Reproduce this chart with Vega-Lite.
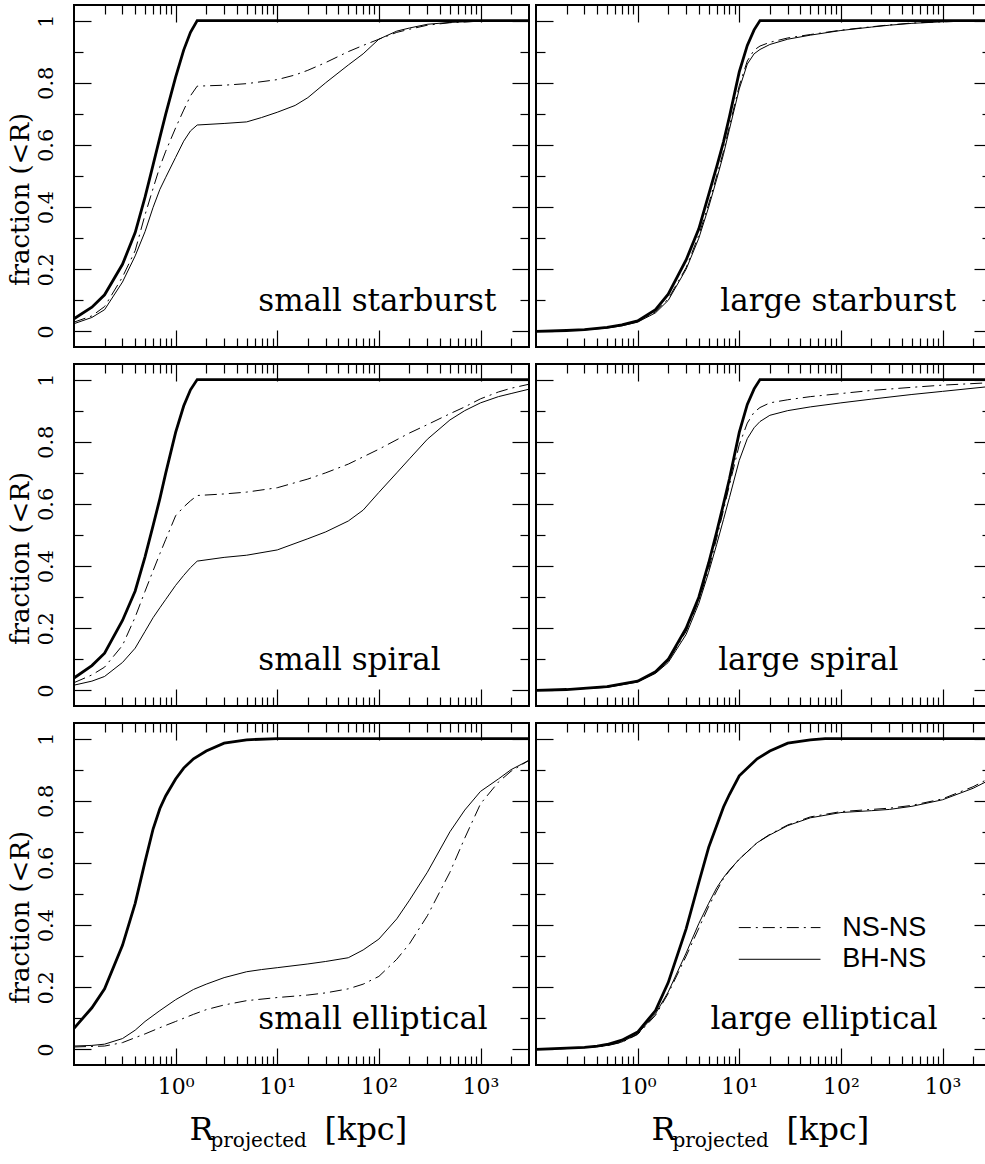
{
"$schema":"https://vega.github.io/schema/vega-lite/v6.json",
"padding":{"left":5,"top":3,"right":0,"bottom":0},
"config":{
 "view":{"stroke":"black","strokeWidth":2},
 "axis":{"grid":false,"domain":false,"minExtent":0,"maxExtent":0,"tickColor":"black","tickWidth":1.2,"labelColor":"black","titleColor":"black","labelFont":"DejaVu Serif","titleFont":"DejaVu Serif","labelFontSize":21,"titleFontSize":26,"titleFontWeight":"normal","labelOverlap":false,"labelFlush":false}
},
"datasets":{"curves":[
{"panel":"ss","series":"all","r":0.1,"f":0.041},{"panel":"ss","series":"all","r":0.15,"f":0.078},{"panel":"ss","series":"all","r":0.2,"f":0.118},{"panel":"ss","series":"all","r":0.3,"f":0.216},{"panel":"ss","series":"all","r":0.4,"f":0.318},{"panel":"ss","series":"all","r":0.5,"f":0.432},{"panel":"ss","series":"all","r":0.6,"f":0.536},{"panel":"ss","series":"all","r":0.7,"f":0.624},{"panel":"ss","series":"all","r":0.8,"f":0.7},{"panel":"ss","series":"all","r":1,"f":0.818},{"panel":"ss","series":"all","r":1.2,"f":0.905},{"panel":"ss","series":"all","r":1.4,"f":0.962},{"panel":"ss","series":"all","r":1.63,"f":1},{"panel":"ss","series":"all","r":3000,"f":1},
{"panel":"ss","series":"NS-NS","r":0.1,"f":0.03},{"panel":"ss","series":"NS-NS","r":0.15,"f":0.05},{"panel":"ss","series":"NS-NS","r":0.2,"f":0.08},{"panel":"ss","series":"NS-NS","r":0.3,"f":0.175},{"panel":"ss","series":"NS-NS","r":0.4,"f":0.26},{"panel":"ss","series":"NS-NS","r":0.5,"f":0.375},{"panel":"ss","series":"NS-NS","r":0.6,"f":0.46},{"panel":"ss","series":"NS-NS","r":0.7,"f":0.53},{"panel":"ss","series":"NS-NS","r":0.8,"f":0.58},{"panel":"ss","series":"NS-NS","r":1,"f":0.655},{"panel":"ss","series":"NS-NS","r":1.2,"f":0.712},{"panel":"ss","series":"NS-NS","r":1.4,"f":0.758},{"panel":"ss","series":"NS-NS","r":1.63,"f":0.789},{"panel":"ss","series":"NS-NS","r":3,"f":0.792},{"panel":"ss","series":"NS-NS","r":5,"f":0.797},{"panel":"ss","series":"NS-NS","r":10,"f":0.81},{"panel":"ss","series":"NS-NS","r":15,"f":0.825},{"panel":"ss","series":"NS-NS","r":20,"f":0.84},{"panel":"ss","series":"NS-NS","r":30,"f":0.865},{"panel":"ss","series":"NS-NS","r":50,"f":0.9},{"panel":"ss","series":"NS-NS","r":70,"f":0.92},{"panel":"ss","series":"NS-NS","r":100,"f":0.94},{"panel":"ss","series":"NS-NS","r":150,"f":0.962},{"panel":"ss","series":"NS-NS","r":200,"f":0.972},{"panel":"ss","series":"NS-NS","r":300,"f":0.985},{"panel":"ss","series":"NS-NS","r":500,"f":0.993},{"panel":"ss","series":"NS-NS","r":1000,"f":0.998},{"panel":"ss","series":"NS-NS","r":3000,"f":1},
{"panel":"ss","series":"BH-NS","r":0.1,"f":0.025},{"panel":"ss","series":"BH-NS","r":0.15,"f":0.045},{"panel":"ss","series":"BH-NS","r":0.2,"f":0.07},{"panel":"ss","series":"BH-NS","r":0.3,"f":0.159},{"panel":"ss","series":"BH-NS","r":0.4,"f":0.243},{"panel":"ss","series":"BH-NS","r":0.5,"f":0.321},{"panel":"ss","series":"BH-NS","r":0.6,"f":0.399},{"panel":"ss","series":"BH-NS","r":0.7,"f":0.457},{"panel":"ss","series":"BH-NS","r":0.8,"f":0.496},{"panel":"ss","series":"BH-NS","r":1,"f":0.56},{"panel":"ss","series":"BH-NS","r":1.2,"f":0.612},{"panel":"ss","series":"BH-NS","r":1.4,"f":0.645},{"panel":"ss","series":"BH-NS","r":1.63,"f":0.664},{"panel":"ss","series":"BH-NS","r":3,"f":0.669},{"panel":"ss","series":"BH-NS","r":5,"f":0.674},{"panel":"ss","series":"BH-NS","r":7,"f":0.688},{"panel":"ss","series":"BH-NS","r":10,"f":0.705},{"panel":"ss","series":"BH-NS","r":15,"f":0.727},{"panel":"ss","series":"BH-NS","r":20,"f":0.752},{"panel":"ss","series":"BH-NS","r":30,"f":0.8},{"panel":"ss","series":"BH-NS","r":50,"f":0.857},{"panel":"ss","series":"BH-NS","r":70,"f":0.893},{"panel":"ss","series":"BH-NS","r":100,"f":0.94},{"panel":"ss","series":"BH-NS","r":150,"f":0.966},{"panel":"ss","series":"BH-NS","r":200,"f":0.976},{"panel":"ss","series":"BH-NS","r":300,"f":0.988},{"panel":"ss","series":"BH-NS","r":500,"f":0.994},{"panel":"ss","series":"BH-NS","r":1000,"f":0.998},{"panel":"ss","series":"BH-NS","r":3000,"f":1},

{"panel":"ls","series":"all","r":0.1,"f":0},{"panel":"ls","series":"all","r":0.2,"f":0.003},{"panel":"ls","series":"all","r":0.3,"f":0.006},{"panel":"ls","series":"all","r":0.5,"f":0.013},{"panel":"ls","series":"all","r":0.7,"f":0.021},{"panel":"ls","series":"all","r":1,"f":0.034},{"panel":"ls","series":"all","r":1.5,"f":0.07},{"panel":"ls","series":"all","r":2,"f":0.12},{"panel":"ls","series":"all","r":3,"f":0.23},{"panel":"ls","series":"all","r":4,"f":0.33},{"panel":"ls","series":"all","r":5,"f":0.44},{"panel":"ls","series":"all","r":6,"f":0.53},{"panel":"ls","series":"all","r":7,"f":0.61},{"panel":"ls","series":"all","r":8,"f":0.69},{"panel":"ls","series":"all","r":10,"f":0.835},{"panel":"ls","series":"all","r":12,"f":0.92},{"panel":"ls","series":"all","r":14,"f":0.97},{"panel":"ls","series":"all","r":16,"f":1},{"panel":"ls","series":"all","r":3000,"f":1},
{"panel":"ls","series":"NS-NS","r":0.1,"f":0},{"panel":"ls","series":"NS-NS","r":0.2,"f":0.003},{"panel":"ls","series":"NS-NS","r":0.3,"f":0.006},{"panel":"ls","series":"NS-NS","r":0.5,"f":0.012},{"panel":"ls","series":"NS-NS","r":0.7,"f":0.02},{"panel":"ls","series":"NS-NS","r":1,"f":0.032},{"panel":"ls","series":"NS-NS","r":1.5,"f":0.063},{"panel":"ls","series":"NS-NS","r":2,"f":0.105},{"panel":"ls","series":"NS-NS","r":3,"f":0.205},{"panel":"ls","series":"NS-NS","r":4,"f":0.31},{"panel":"ls","series":"NS-NS","r":5,"f":0.41},{"panel":"ls","series":"NS-NS","r":6,"f":0.5},{"panel":"ls","series":"NS-NS","r":7,"f":0.58},{"panel":"ls","series":"NS-NS","r":8,"f":0.66},{"panel":"ls","series":"NS-NS","r":10,"f":0.79},{"panel":"ls","series":"NS-NS","r":12,"f":0.87},{"panel":"ls","series":"NS-NS","r":14,"f":0.905},{"panel":"ls","series":"NS-NS","r":16,"f":0.918},{"panel":"ls","series":"NS-NS","r":20,"f":0.93},{"panel":"ls","series":"NS-NS","r":30,"f":0.944},{"panel":"ls","series":"NS-NS","r":50,"f":0.955},{"panel":"ls","series":"NS-NS","r":100,"f":0.969},{"panel":"ls","series":"NS-NS","r":200,"f":0.98},{"panel":"ls","series":"NS-NS","r":300,"f":0.986},{"panel":"ls","series":"NS-NS","r":500,"f":0.992},{"panel":"ls","series":"NS-NS","r":1000,"f":0.996},{"panel":"ls","series":"NS-NS","r":3000,"f":1},
{"panel":"ls","series":"BH-NS","r":0.1,"f":0},{"panel":"ls","series":"BH-NS","r":0.2,"f":0.003},{"panel":"ls","series":"BH-NS","r":0.3,"f":0.005},{"panel":"ls","series":"BH-NS","r":0.5,"f":0.011},{"panel":"ls","series":"BH-NS","r":0.7,"f":0.018},{"panel":"ls","series":"BH-NS","r":1,"f":0.03},{"panel":"ls","series":"BH-NS","r":1.5,"f":0.06},{"panel":"ls","series":"BH-NS","r":2,"f":0.1},{"panel":"ls","series":"BH-NS","r":3,"f":0.2},{"panel":"ls","series":"BH-NS","r":4,"f":0.3},{"panel":"ls","series":"BH-NS","r":5,"f":0.4},{"panel":"ls","series":"BH-NS","r":6,"f":0.49},{"panel":"ls","series":"BH-NS","r":7,"f":0.57},{"panel":"ls","series":"BH-NS","r":8,"f":0.65},{"panel":"ls","series":"BH-NS","r":10,"f":0.78},{"panel":"ls","series":"BH-NS","r":12,"f":0.86},{"panel":"ls","series":"BH-NS","r":14,"f":0.893},{"panel":"ls","series":"BH-NS","r":16,"f":0.907},{"panel":"ls","series":"BH-NS","r":20,"f":0.923},{"panel":"ls","series":"BH-NS","r":30,"f":0.94},{"panel":"ls","series":"BH-NS","r":50,"f":0.953},{"panel":"ls","series":"BH-NS","r":100,"f":0.968},{"panel":"ls","series":"BH-NS","r":200,"f":0.979},{"panel":"ls","series":"BH-NS","r":300,"f":0.985},{"panel":"ls","series":"BH-NS","r":500,"f":0.991},{"panel":"ls","series":"BH-NS","r":1000,"f":0.996},{"panel":"ls","series":"BH-NS","r":3000,"f":1},

{"panel":"sp","series":"all","r":0.1,"f":0.04},{"panel":"sp","series":"all","r":0.15,"f":0.08},{"panel":"sp","series":"all","r":0.2,"f":0.12},{"panel":"sp","series":"all","r":0.3,"f":0.225},{"panel":"sp","series":"all","r":0.4,"f":0.32},{"panel":"sp","series":"all","r":0.5,"f":0.43},{"panel":"sp","series":"all","r":0.6,"f":0.53},{"panel":"sp","series":"all","r":0.7,"f":0.617},{"panel":"sp","series":"all","r":0.8,"f":0.7},{"panel":"sp","series":"all","r":1,"f":0.83},{"panel":"sp","series":"all","r":1.2,"f":0.915},{"panel":"sp","series":"all","r":1.4,"f":0.967},{"panel":"sp","series":"all","r":1.63,"f":1},{"panel":"sp","series":"all","r":3000,"f":1},
{"panel":"sp","series":"NS-NS","r":0.1,"f":0.025},{"panel":"sp","series":"NS-NS","r":0.15,"f":0.05},{"panel":"sp","series":"NS-NS","r":0.2,"f":0.075},{"panel":"sp","series":"NS-NS","r":0.3,"f":0.145},{"panel":"sp","series":"NS-NS","r":0.4,"f":0.236},{"panel":"sp","series":"NS-NS","r":0.5,"f":0.319},{"panel":"sp","series":"NS-NS","r":0.6,"f":0.385},{"panel":"sp","series":"NS-NS","r":0.7,"f":0.44},{"panel":"sp","series":"NS-NS","r":0.8,"f":0.486},{"panel":"sp","series":"NS-NS","r":1,"f":0.562},{"panel":"sp","series":"NS-NS","r":1.2,"f":0.59},{"panel":"sp","series":"NS-NS","r":1.4,"f":0.61},{"panel":"sp","series":"NS-NS","r":1.63,"f":0.627},{"panel":"sp","series":"NS-NS","r":3,"f":0.632},{"panel":"sp","series":"NS-NS","r":5,"f":0.638},{"panel":"sp","series":"NS-NS","r":10,"f":0.652},{"panel":"sp","series":"NS-NS","r":20,"f":0.68},{"panel":"sp","series":"NS-NS","r":30,"f":0.7},{"panel":"sp","series":"NS-NS","r":50,"f":0.728},{"panel":"sp","series":"NS-NS","r":100,"f":0.776},{"panel":"sp","series":"NS-NS","r":200,"f":0.828},{"panel":"sp","series":"NS-NS","r":300,"f":0.855},{"panel":"sp","series":"NS-NS","r":500,"f":0.89},{"panel":"sp","series":"NS-NS","r":700,"f":0.912},{"panel":"sp","series":"NS-NS","r":1000,"f":0.938},{"panel":"sp","series":"NS-NS","r":1500,"f":0.96},{"panel":"sp","series":"NS-NS","r":2000,"f":0.972},{"panel":"sp","series":"NS-NS","r":3000,"f":0.985},
{"panel":"sp","series":"BH-NS","r":0.1,"f":0.017},{"panel":"sp","series":"BH-NS","r":0.15,"f":0.03},{"panel":"sp","series":"BH-NS","r":0.2,"f":0.045},{"panel":"sp","series":"BH-NS","r":0.3,"f":0.09},{"panel":"sp","series":"BH-NS","r":0.4,"f":0.136},{"panel":"sp","series":"BH-NS","r":0.5,"f":0.19},{"panel":"sp","series":"BH-NS","r":0.6,"f":0.234},{"panel":"sp","series":"BH-NS","r":0.7,"f":0.266},{"panel":"sp","series":"BH-NS","r":0.8,"f":0.293},{"panel":"sp","series":"BH-NS","r":1,"f":0.338},{"panel":"sp","series":"BH-NS","r":1.2,"f":0.37},{"panel":"sp","series":"BH-NS","r":1.4,"f":0.395},{"panel":"sp","series":"BH-NS","r":1.63,"f":0.416},{"panel":"sp","series":"BH-NS","r":3,"f":0.428},{"panel":"sp","series":"BH-NS","r":5,"f":0.435},{"panel":"sp","series":"BH-NS","r":10,"f":0.452},{"panel":"sp","series":"BH-NS","r":20,"f":0.488},{"panel":"sp","series":"BH-NS","r":30,"f":0.51},{"panel":"sp","series":"BH-NS","r":50,"f":0.545},{"panel":"sp","series":"BH-NS","r":70,"f":0.58},{"panel":"sp","series":"BH-NS","r":100,"f":0.637},{"panel":"sp","series":"BH-NS","r":150,"f":0.7},{"panel":"sp","series":"BH-NS","r":200,"f":0.745},{"panel":"sp","series":"BH-NS","r":300,"f":0.808},{"panel":"sp","series":"BH-NS","r":500,"f":0.87},{"panel":"sp","series":"BH-NS","r":700,"f":0.9},{"panel":"sp","series":"BH-NS","r":1000,"f":0.925},{"panel":"sp","series":"BH-NS","r":1500,"f":0.945},{"panel":"sp","series":"BH-NS","r":2000,"f":0.955},{"panel":"sp","series":"BH-NS","r":3000,"f":0.969},

{"panel":"lp","series":"all","r":0.1,"f":0},{"panel":"lp","series":"all","r":0.2,"f":0.003},{"panel":"lp","series":"all","r":0.5,"f":0.012},{"panel":"lp","series":"all","r":1,"f":0.03},{"panel":"lp","series":"all","r":1.5,"f":0.06},{"panel":"lp","series":"all","r":2,"f":0.1},{"panel":"lp","series":"all","r":3,"f":0.2},{"panel":"lp","series":"all","r":4,"f":0.3},{"panel":"lp","series":"all","r":5,"f":0.41},{"panel":"lp","series":"all","r":6,"f":0.51},{"panel":"lp","series":"all","r":7,"f":0.6},{"panel":"lp","series":"all","r":8,"f":0.68},{"panel":"lp","series":"all","r":10,"f":0.83},{"panel":"lp","series":"all","r":12,"f":0.92},{"panel":"lp","series":"all","r":14,"f":0.97},{"panel":"lp","series":"all","r":16,"f":1},{"panel":"lp","series":"all","r":3000,"f":1},
{"panel":"lp","series":"NS-NS","r":0.1,"f":0},{"panel":"lp","series":"NS-NS","r":0.2,"f":0.003},{"panel":"lp","series":"NS-NS","r":0.5,"f":0.011},{"panel":"lp","series":"NS-NS","r":1,"f":0.029},{"panel":"lp","series":"NS-NS","r":1.5,"f":0.058},{"panel":"lp","series":"NS-NS","r":2,"f":0.095},{"panel":"lp","series":"NS-NS","r":3,"f":0.19},{"panel":"lp","series":"NS-NS","r":4,"f":0.29},{"panel":"lp","series":"NS-NS","r":5,"f":0.39},{"panel":"lp","series":"NS-NS","r":6,"f":0.49},{"panel":"lp","series":"NS-NS","r":7,"f":0.58},{"panel":"lp","series":"NS-NS","r":8,"f":0.66},{"panel":"lp","series":"NS-NS","r":10,"f":0.79},{"panel":"lp","series":"NS-NS","r":12,"f":0.86},{"panel":"lp","series":"NS-NS","r":14,"f":0.895},{"panel":"lp","series":"NS-NS","r":16,"f":0.91},{"panel":"lp","series":"NS-NS","r":20,"f":0.925},{"panel":"lp","series":"NS-NS","r":30,"f":0.935},{"panel":"lp","series":"NS-NS","r":50,"f":0.945},{"panel":"lp","series":"NS-NS","r":100,"f":0.955},{"panel":"lp","series":"NS-NS","r":200,"f":0.965},{"panel":"lp","series":"NS-NS","r":500,"f":0.975},{"panel":"lp","series":"NS-NS","r":1000,"f":0.982},{"panel":"lp","series":"NS-NS","r":3000,"f":0.99},
{"panel":"lp","series":"BH-NS","r":0.1,"f":0},{"panel":"lp","series":"BH-NS","r":0.2,"f":0.003},{"panel":"lp","series":"BH-NS","r":0.5,"f":0.01},{"panel":"lp","series":"BH-NS","r":1,"f":0.027},{"panel":"lp","series":"BH-NS","r":1.5,"f":0.055},{"panel":"lp","series":"BH-NS","r":2,"f":0.09},{"panel":"lp","series":"BH-NS","r":3,"f":0.18},{"panel":"lp","series":"BH-NS","r":4,"f":0.28},{"panel":"lp","series":"BH-NS","r":5,"f":0.38},{"panel":"lp","series":"BH-NS","r":6,"f":0.47},{"panel":"lp","series":"BH-NS","r":7,"f":0.55},{"panel":"lp","series":"BH-NS","r":8,"f":0.62},{"panel":"lp","series":"BH-NS","r":10,"f":0.74},{"panel":"lp","series":"BH-NS","r":12,"f":0.81},{"panel":"lp","series":"BH-NS","r":14,"f":0.845},{"panel":"lp","series":"BH-NS","r":16,"f":0.865},{"panel":"lp","series":"BH-NS","r":20,"f":0.885},{"panel":"lp","series":"BH-NS","r":30,"f":0.9},{"panel":"lp","series":"BH-NS","r":50,"f":0.912},{"panel":"lp","series":"BH-NS","r":100,"f":0.925},{"panel":"lp","series":"BH-NS","r":200,"f":0.937},{"panel":"lp","series":"BH-NS","r":500,"f":0.952},{"panel":"lp","series":"BH-NS","r":1000,"f":0.962},{"panel":"lp","series":"BH-NS","r":3000,"f":0.978},

{"panel":"se","series":"all","r":0.1,"f":0.068},{"panel":"se","series":"all","r":0.15,"f":0.134},{"panel":"se","series":"all","r":0.2,"f":0.195},{"panel":"se","series":"all","r":0.3,"f":0.335},{"panel":"se","series":"all","r":0.4,"f":0.47},{"panel":"se","series":"all","r":0.5,"f":0.604},{"panel":"se","series":"all","r":0.6,"f":0.709},{"panel":"se","series":"all","r":0.7,"f":0.775},{"panel":"se","series":"all","r":0.8,"f":0.816},{"panel":"se","series":"all","r":1,"f":0.87},{"panel":"se","series":"all","r":1.2,"f":0.905},{"panel":"se","series":"all","r":1.5,"f":0.935},{"panel":"se","series":"all","r":2,"f":0.96},{"panel":"se","series":"all","r":3,"f":0.985},{"panel":"se","series":"all","r":5,"f":0.996},{"panel":"se","series":"all","r":10,"f":1},{"panel":"se","series":"all","r":3000,"f":1},
{"panel":"se","series":"NS-NS","r":0.1,"f":0.008},{"panel":"se","series":"NS-NS","r":0.2,"f":0.011},{"panel":"se","series":"NS-NS","r":0.3,"f":0.022},{"panel":"se","series":"NS-NS","r":0.4,"f":0.038},{"panel":"se","series":"NS-NS","r":0.5,"f":0.05},{"panel":"se","series":"NS-NS","r":0.7,"f":0.07},{"panel":"se","series":"NS-NS","r":1,"f":0.09},{"panel":"se","series":"NS-NS","r":1.5,"f":0.113},{"panel":"se","series":"NS-NS","r":2,"f":0.128},{"panel":"se","series":"NS-NS","r":3,"f":0.143},{"panel":"se","series":"NS-NS","r":5,"f":0.157},{"panel":"se","series":"NS-NS","r":10,"f":0.167},{"panel":"se","series":"NS-NS","r":20,"f":0.175},{"panel":"se","series":"NS-NS","r":30,"f":0.182},{"panel":"se","series":"NS-NS","r":50,"f":0.195},{"panel":"se","series":"NS-NS","r":70,"f":0.21},{"panel":"se","series":"NS-NS","r":100,"f":0.235},{"panel":"se","series":"NS-NS","r":150,"f":0.29},{"panel":"se","series":"NS-NS","r":200,"f":0.34},{"panel":"se","series":"NS-NS","r":300,"f":0.43},{"panel":"se","series":"NS-NS","r":500,"f":0.57},{"panel":"se","series":"NS-NS","r":700,"f":0.68},{"panel":"se","series":"NS-NS","r":1000,"f":0.79},{"panel":"se","series":"NS-NS","r":1500,"f":0.86},{"panel":"se","series":"NS-NS","r":2000,"f":0.895},{"panel":"se","series":"NS-NS","r":3000,"f":0.93},
{"panel":"se","series":"BH-NS","r":0.1,"f":0.011},{"panel":"se","series":"BH-NS","r":0.15,"f":0.013},{"panel":"se","series":"BH-NS","r":0.2,"f":0.017},{"panel":"se","series":"BH-NS","r":0.3,"f":0.035},{"panel":"se","series":"BH-NS","r":0.4,"f":0.062},{"panel":"se","series":"BH-NS","r":0.5,"f":0.09},{"panel":"se","series":"BH-NS","r":0.7,"f":0.125},{"panel":"se","series":"BH-NS","r":1,"f":0.16},{"panel":"se","series":"BH-NS","r":1.5,"f":0.193},{"panel":"se","series":"BH-NS","r":2,"f":0.21},{"panel":"se","series":"BH-NS","r":3,"f":0.231},{"panel":"se","series":"BH-NS","r":5,"f":0.25},{"panel":"se","series":"BH-NS","r":7,"f":0.257},{"panel":"se","series":"BH-NS","r":10,"f":0.263},{"panel":"se","series":"BH-NS","r":20,"f":0.275},{"panel":"se","series":"BH-NS","r":30,"f":0.283},{"panel":"se","series":"BH-NS","r":50,"f":0.295},{"panel":"se","series":"BH-NS","r":70,"f":0.32},{"panel":"se","series":"BH-NS","r":100,"f":0.355},{"panel":"se","series":"BH-NS","r":150,"f":0.42},{"panel":"se","series":"BH-NS","r":200,"f":0.48},{"panel":"se","series":"BH-NS","r":300,"f":0.57},{"panel":"se","series":"BH-NS","r":500,"f":0.7},{"panel":"se","series":"BH-NS","r":700,"f":0.77},{"panel":"se","series":"BH-NS","r":1000,"f":0.83},{"panel":"se","series":"BH-NS","r":1500,"f":0.87},{"panel":"se","series":"BH-NS","r":2000,"f":0.9},{"panel":"se","series":"BH-NS","r":3000,"f":0.93},

{"panel":"le","series":"all","r":0.1,"f":0},{"panel":"le","series":"all","r":0.2,"f":0.004},{"panel":"le","series":"all","r":0.3,"f":0.007},{"panel":"le","series":"all","r":0.4,"f":0.011},{"panel":"le","series":"all","r":0.5,"f":0.016},{"panel":"le","series":"all","r":0.7,"f":0.03},{"panel":"le","series":"all","r":1,"f":0.056},{"panel":"le","series":"all","r":1.5,"f":0.125},{"panel":"le","series":"all","r":2,"f":0.215},{"panel":"le","series":"all","r":3,"f":0.388},{"panel":"le","series":"all","r":4,"f":0.537},{"panel":"le","series":"all","r":5,"f":0.65},{"panel":"le","series":"all","r":6,"f":0.72},{"panel":"le","series":"all","r":7,"f":0.78},{"panel":"le","series":"all","r":8,"f":0.82},{"panel":"le","series":"all","r":10,"f":0.88},{"panel":"le","series":"all","r":15,"f":0.935},{"panel":"le","series":"all","r":20,"f":0.96},{"panel":"le","series":"all","r":30,"f":0.985},{"panel":"le","series":"all","r":50,"f":0.996},{"panel":"le","series":"all","r":70,"f":1},{"panel":"le","series":"all","r":3000,"f":1},
{"panel":"le","series":"NS-NS","r":0.1,"f":0},{"panel":"le","series":"NS-NS","r":0.2,"f":0.003},{"panel":"le","series":"NS-NS","r":0.3,"f":0.006},{"panel":"le","series":"NS-NS","r":0.4,"f":0.009},{"panel":"le","series":"NS-NS","r":0.5,"f":0.012},{"panel":"le","series":"NS-NS","r":0.7,"f":0.023},{"panel":"le","series":"NS-NS","r":1,"f":0.048},{"panel":"le","series":"NS-NS","r":1.5,"f":0.11},{"panel":"le","series":"NS-NS","r":2,"f":0.18},{"panel":"le","series":"NS-NS","r":3,"f":0.3},{"panel":"le","series":"NS-NS","r":4,"f":0.39},{"panel":"le","series":"NS-NS","r":5,"f":0.46},{"panel":"le","series":"NS-NS","r":6,"f":0.51},{"panel":"le","series":"NS-NS","r":7,"f":0.55},{"panel":"le","series":"NS-NS","r":8,"f":0.575},{"panel":"le","series":"NS-NS","r":10,"f":0.612},{"panel":"le","series":"NS-NS","r":15,"f":0.665},{"panel":"le","series":"NS-NS","r":20,"f":0.692},{"panel":"le","series":"NS-NS","r":30,"f":0.722},{"panel":"le","series":"NS-NS","r":50,"f":0.748},{"panel":"le","series":"NS-NS","r":100,"f":0.765},{"panel":"le","series":"NS-NS","r":200,"f":0.772},{"panel":"le","series":"NS-NS","r":300,"f":0.776},{"panel":"le","series":"NS-NS","r":500,"f":0.785},{"panel":"le","series":"NS-NS","r":1000,"f":0.806},{"panel":"le","series":"NS-NS","r":2000,"f":0.845},{"panel":"le","series":"NS-NS","r":3000,"f":0.875},
{"panel":"le","series":"BH-NS","r":0.1,"f":0},{"panel":"le","series":"BH-NS","r":0.2,"f":0.003},{"panel":"le","series":"BH-NS","r":0.3,"f":0.006},{"panel":"le","series":"BH-NS","r":0.4,"f":0.009},{"panel":"le","series":"BH-NS","r":0.5,"f":0.013},{"panel":"le","series":"BH-NS","r":0.7,"f":0.024},{"panel":"le","series":"BH-NS","r":1,"f":0.05},{"panel":"le","series":"BH-NS","r":1.5,"f":0.115},{"panel":"le","series":"BH-NS","r":2,"f":0.185},{"panel":"le","series":"BH-NS","r":3,"f":0.31},{"panel":"le","series":"BH-NS","r":4,"f":0.405},{"panel":"le","series":"BH-NS","r":5,"f":0.47},{"panel":"le","series":"BH-NS","r":6,"f":0.52},{"panel":"le","series":"BH-NS","r":7,"f":0.553},{"panel":"le","series":"BH-NS","r":8,"f":0.577},{"panel":"le","series":"BH-NS","r":10,"f":0.612},{"panel":"le","series":"BH-NS","r":15,"f":0.665},{"panel":"le","series":"BH-NS","r":20,"f":0.69},{"panel":"le","series":"BH-NS","r":30,"f":0.72},{"panel":"le","series":"BH-NS","r":50,"f":0.745},{"panel":"le","series":"BH-NS","r":100,"f":0.762},{"panel":"le","series":"BH-NS","r":200,"f":0.768},{"panel":"le","series":"BH-NS","r":300,"f":0.772},{"panel":"le","series":"BH-NS","r":500,"f":0.782},{"panel":"le","series":"BH-NS","r":1000,"f":0.803},{"panel":"le","series":"BH-NS","r":2000,"f":0.84},{"panel":"le","series":"BH-NS","r":3000,"f":0.869}
]},
"spacing":13,
"vconcat":[
{"spacing":-21,"hconcat":[
 {"width":455,"height":342,"data":{"name":"curves"},"transform":[{"filter":"datum.panel === 'ss'"}],
  "resolve":{"axis":{"x":"independent","y":"independent"}},
  "layer":[
   {"transform":[{"filter":"datum.series === 'all'"}],"mark":{"type":"line","stroke":"black","strokeWidth":2.8},
    "encoding":{"x":{"field":"r","type":"quantitative","scale":{"type":"log","domain":[0.1,3000],"nice":false},"axis":{"orient":"bottom","offset":-17,"values":[1,10,100,1000],"tickSize":17,"labels":false,"title":null}},
     "y":{"field":"f","type":"quantitative","scale":{"domain":[-0.05,1.05],"nice":false,"zero":false},"axis":{"orient":"left","offset":-17,"maxExtent":200,"values":[0,0.2,0.4,0.6,0.8,1],"format":"~g","tickSize":17,"labelAngle":-90,"labelAlign":"center","labelBaseline":"bottom","labelPadding":18,"title":"fraction (<R)","titlePadding":2,"titleY":194}}}},
   {"transform":[{"filter":"datum.series === 'NS-NS'"}],"mark":{"type":"line","stroke":"black","strokeWidth":1,"strokeDash":[12,5,2,5]},
    "encoding":{"x":{"field":"r","type":"quantitative","scale":{"type":"log","domain":[0.1,3000],"nice":false},"axis":{"orient":"bottom","offset":-9,"values":[0.2,0.3,0.4,0.5,0.6,0.7,0.8,0.9,2,3,4,5,6,7,8,9,20,30,40,50,60,70,80,90,200,300,400,500,600,700,800,900,2000],"tickSize":9,"labels":false,"title":null}},
     "y":{"field":"f","type":"quantitative","scale":{"domain":[-0.05,1.05],"nice":false,"zero":false},"axis":{"orient":"left","offset":-9,"values":[0.1,0.3,0.5,0.7,0.9],"tickSize":9,"labels":false,"title":null}}}},
   {"transform":[{"filter":"datum.series === 'BH-NS'"}],"mark":{"type":"line","stroke":"black","strokeWidth":1},
    "encoding":{"x":{"field":"r","type":"quantitative","scale":{"type":"log","domain":[0.1,3000],"nice":false},"axis":{"orient":"top","offset":-17,"values":[1,10,100,1000],"tickSize":17,"labels":false,"title":null}},
     "y":{"field":"f","type":"quantitative","scale":{"domain":[-0.05,1.05],"nice":false,"zero":false},"axis":{"orient":"right","offset":-17,"values":[0,0.2,0.4,0.6,0.8,1],"tickSize":17,"labels":false,"title":null}}}},
   {"data":{"values":[{"label":"small starburst"}]},"mark":{"type":"text","font":"DejaVu Serif","fontSize":31,"align":"left","baseline":"alphabetic","color":"black"},
    "encoding":{"text":{"field":"label"},"x":{"datum":6.5,"type":"quantitative","scale":{"type":"log","domain":[0.1,3000],"nice":false},"axis":{"orient":"top","offset":-9,"values":[0.2,0.3,0.4,0.5,0.6,0.7,0.8,0.9,2,3,4,5,6,7,8,9,20,30,40,50,60,70,80,90,200,300,400,500,600,700,800,900,2000],"tickSize":9,"labels":false,"title":null}},
     "y":{"datum":0.067,"type":"quantitative","scale":{"domain":[-0.05,1.05],"nice":false,"zero":false},"axis":{"orient":"right","offset":-9,"values":[0.1,0.3,0.5,0.7,0.9],"tickSize":9,"labels":false,"title":null}}}}
  ]},
 {"width":455,"height":342,"data":{"name":"curves"},"transform":[{"filter":"datum.panel === 'ls'"}],
  "resolve":{"axis":{"x":"independent","y":"independent"}},
  "layer":[
   {"transform":[{"filter":"datum.series === 'all'"}],"mark":{"type":"line","stroke":"black","strokeWidth":2.8},
    "encoding":{"x":{"field":"r","type":"quantitative","scale":{"type":"log","domain":[0.1,3000],"nice":false},"axis":{"orient":"bottom","offset":-17,"values":[1,10,100,1000],"tickSize":17,"labels":false,"title":null}},
     "y":{"field":"f","type":"quantitative","scale":{"domain":[-0.05,1.05],"nice":false,"zero":false},"axis":{"orient":"left","offset":-17,"values":[0,0.2,0.4,0.6,0.8,1],"tickSize":17,"labels":false,"title":null}}}},
   {"transform":[{"filter":"datum.series === 'NS-NS'"}],"mark":{"type":"line","stroke":"black","strokeWidth":1,"strokeDash":[12,5,2,5]},
    "encoding":{"x":{"field":"r","type":"quantitative","scale":{"type":"log","domain":[0.1,3000],"nice":false},"axis":{"orient":"bottom","offset":-9,"values":[0.2,0.3,0.4,0.5,0.6,0.7,0.8,0.9,2,3,4,5,6,7,8,9,20,30,40,50,60,70,80,90,200,300,400,500,600,700,800,900,2000],"tickSize":9,"labels":false,"title":null}},
     "y":{"field":"f","type":"quantitative","scale":{"domain":[-0.05,1.05],"nice":false,"zero":false},"axis":{"orient":"left","offset":-9,"values":[0.1,0.3,0.5,0.7,0.9],"tickSize":9,"labels":false,"title":null}}}},
   {"transform":[{"filter":"datum.series === 'BH-NS'"}],"mark":{"type":"line","stroke":"black","strokeWidth":1},
    "encoding":{"x":{"field":"r","type":"quantitative","scale":{"type":"log","domain":[0.1,3000],"nice":false},"axis":{"orient":"top","offset":-17,"values":[1,10,100,1000],"tickSize":17,"labels":false,"title":null}},
     "y":{"field":"f","type":"quantitative","scale":{"domain":[-0.05,1.05],"nice":false,"zero":false},"axis":{"orient":"right","offset":-17,"values":[0,0.2,0.4,0.6,0.8,1],"tickSize":17,"labels":false,"title":null}}}},
   {"data":{"values":[{"label":"large starburst"}]},"mark":{"type":"text","font":"DejaVu Serif","fontSize":31,"align":"left","baseline":"alphabetic","color":"black"},
    "encoding":{"text":{"field":"label"},"x":{"datum":6.5,"type":"quantitative","scale":{"type":"log","domain":[0.1,3000],"nice":false},"axis":{"orient":"top","offset":-9,"values":[0.2,0.3,0.4,0.5,0.6,0.7,0.8,0.9,2,3,4,5,6,7,8,9,20,30,40,50,60,70,80,90,200,300,400,500,600,700,800,900,2000],"tickSize":9,"labels":false,"title":null}},
     "y":{"datum":0.067,"type":"quantitative","scale":{"domain":[-0.05,1.05],"nice":false,"zero":false},"axis":{"orient":"right","offset":-9,"values":[0.1,0.3,0.5,0.7,0.9],"tickSize":9,"labels":false,"title":null}}}}
  ]}
]},
{"spacing":-21,"hconcat":[
 {"width":455,"height":342,"data":{"name":"curves"},"transform":[{"filter":"datum.panel === 'sp'"}],
  "resolve":{"axis":{"x":"independent","y":"independent"}},
  "layer":[
   {"transform":[{"filter":"datum.series === 'all'"}],"mark":{"type":"line","stroke":"black","strokeWidth":2.8},
    "encoding":{"x":{"field":"r","type":"quantitative","scale":{"type":"log","domain":[0.1,3000],"nice":false},"axis":{"orient":"bottom","offset":-17,"values":[1,10,100,1000],"tickSize":17,"labels":false,"title":null}},
     "y":{"field":"f","type":"quantitative","scale":{"domain":[-0.05,1.05],"nice":false,"zero":false},"axis":{"orient":"left","offset":-17,"maxExtent":200,"values":[0,0.2,0.4,0.6,0.8,1],"format":"~g","tickSize":17,"labelAngle":-90,"labelAlign":"center","labelBaseline":"bottom","labelPadding":18,"title":"fraction (<R)","titlePadding":2,"titleY":194}}}},
   {"transform":[{"filter":"datum.series === 'NS-NS'"}],"mark":{"type":"line","stroke":"black","strokeWidth":1,"strokeDash":[12,5,2,5]},
    "encoding":{"x":{"field":"r","type":"quantitative","scale":{"type":"log","domain":[0.1,3000],"nice":false},"axis":{"orient":"bottom","offset":-9,"values":[0.2,0.3,0.4,0.5,0.6,0.7,0.8,0.9,2,3,4,5,6,7,8,9,20,30,40,50,60,70,80,90,200,300,400,500,600,700,800,900,2000],"tickSize":9,"labels":false,"title":null}},
     "y":{"field":"f","type":"quantitative","scale":{"domain":[-0.05,1.05],"nice":false,"zero":false},"axis":{"orient":"left","offset":-9,"values":[0.1,0.3,0.5,0.7,0.9],"tickSize":9,"labels":false,"title":null}}}},
   {"transform":[{"filter":"datum.series === 'BH-NS'"}],"mark":{"type":"line","stroke":"black","strokeWidth":1},
    "encoding":{"x":{"field":"r","type":"quantitative","scale":{"type":"log","domain":[0.1,3000],"nice":false},"axis":{"orient":"top","offset":-17,"values":[1,10,100,1000],"tickSize":17,"labels":false,"title":null}},
     "y":{"field":"f","type":"quantitative","scale":{"domain":[-0.05,1.05],"nice":false,"zero":false},"axis":{"orient":"right","offset":-17,"values":[0,0.2,0.4,0.6,0.8,1],"tickSize":17,"labels":false,"title":null}}}},
   {"data":{"values":[{"label":"small spiral"}]},"mark":{"type":"text","font":"DejaVu Serif","fontSize":31,"align":"left","baseline":"alphabetic","color":"black"},
    "encoding":{"text":{"field":"label"},"x":{"datum":6.5,"type":"quantitative","scale":{"type":"log","domain":[0.1,3000],"nice":false},"axis":{"orient":"top","offset":-9,"values":[0.2,0.3,0.4,0.5,0.6,0.7,0.8,0.9,2,3,4,5,6,7,8,9,20,30,40,50,60,70,80,90,200,300,400,500,600,700,800,900,2000],"tickSize":9,"labels":false,"title":null}},
     "y":{"datum":0.067,"type":"quantitative","scale":{"domain":[-0.05,1.05],"nice":false,"zero":false},"axis":{"orient":"right","offset":-9,"values":[0.1,0.3,0.5,0.7,0.9],"tickSize":9,"labels":false,"title":null}}}}
  ]},
 {"width":455,"height":342,"data":{"name":"curves"},"transform":[{"filter":"datum.panel === 'lp'"}],
  "resolve":{"axis":{"x":"independent","y":"independent"}},
  "layer":[
   {"transform":[{"filter":"datum.series === 'all'"}],"mark":{"type":"line","stroke":"black","strokeWidth":2.8},
    "encoding":{"x":{"field":"r","type":"quantitative","scale":{"type":"log","domain":[0.1,3000],"nice":false},"axis":{"orient":"bottom","offset":-17,"values":[1,10,100,1000],"tickSize":17,"labels":false,"title":null}},
     "y":{"field":"f","type":"quantitative","scale":{"domain":[-0.05,1.05],"nice":false,"zero":false},"axis":{"orient":"left","offset":-17,"values":[0,0.2,0.4,0.6,0.8,1],"tickSize":17,"labels":false,"title":null}}}},
   {"transform":[{"filter":"datum.series === 'NS-NS'"}],"mark":{"type":"line","stroke":"black","strokeWidth":1,"strokeDash":[12,5,2,5]},
    "encoding":{"x":{"field":"r","type":"quantitative","scale":{"type":"log","domain":[0.1,3000],"nice":false},"axis":{"orient":"bottom","offset":-9,"values":[0.2,0.3,0.4,0.5,0.6,0.7,0.8,0.9,2,3,4,5,6,7,8,9,20,30,40,50,60,70,80,90,200,300,400,500,600,700,800,900,2000],"tickSize":9,"labels":false,"title":null}},
     "y":{"field":"f","type":"quantitative","scale":{"domain":[-0.05,1.05],"nice":false,"zero":false},"axis":{"orient":"left","offset":-9,"values":[0.1,0.3,0.5,0.7,0.9],"tickSize":9,"labels":false,"title":null}}}},
   {"transform":[{"filter":"datum.series === 'BH-NS'"}],"mark":{"type":"line","stroke":"black","strokeWidth":1},
    "encoding":{"x":{"field":"r","type":"quantitative","scale":{"type":"log","domain":[0.1,3000],"nice":false},"axis":{"orient":"top","offset":-17,"values":[1,10,100,1000],"tickSize":17,"labels":false,"title":null}},
     "y":{"field":"f","type":"quantitative","scale":{"domain":[-0.05,1.05],"nice":false,"zero":false},"axis":{"orient":"right","offset":-17,"values":[0,0.2,0.4,0.6,0.8,1],"tickSize":17,"labels":false,"title":null}}}},
   {"data":{"values":[{"label":"large spiral"}]},"mark":{"type":"text","font":"DejaVu Serif","fontSize":31,"align":"left","baseline":"alphabetic","color":"black"},
    "encoding":{"text":{"field":"label"},"x":{"datum":6.2,"type":"quantitative","scale":{"type":"log","domain":[0.1,3000],"nice":false},"axis":{"orient":"top","offset":-9,"values":[0.2,0.3,0.4,0.5,0.6,0.7,0.8,0.9,2,3,4,5,6,7,8,9,20,30,40,50,60,70,80,90,200,300,400,500,600,700,800,900,2000],"tickSize":9,"labels":false,"title":null}},
     "y":{"datum":0.067,"type":"quantitative","scale":{"domain":[-0.05,1.05],"nice":false,"zero":false},"axis":{"orient":"right","offset":-9,"values":[0.1,0.3,0.5,0.7,0.9],"tickSize":9,"labels":false,"title":null}}}}
  ]}
]},
{"spacing":-21,"hconcat":[
 {"width":455,"height":342,"data":{"name":"curves"},"transform":[{"filter":"datum.panel === 'se'"}],
  "resolve":{"axis":{"x":"independent","y":"independent"}},
  "layer":[
   {"transform":[{"filter":"datum.series === 'all'"}],"mark":{"type":"line","stroke":"black","strokeWidth":2.8},
    "encoding":{"x":{"field":"r","type":"quantitative","scale":{"type":"log","domain":[0.1,3000],"nice":false},"axis":{"orient":"bottom","offset":-17,"maxExtent":200,"values":[1,10,100,1000],"tickSize":17,"labels":true,"labelExpr":"datum.value == 1 ? '10⁰' : datum.value == 10 ? '10¹' : datum.value == 100 ? '10²' : '10³'","labelPadding":11,"labelFontSize":22,"title":"R","titleFontSize":32,"titleX":115,"titleY":91,"titleAlign":"left","titleBaseline":"alphabetic"}},
     "y":{"field":"f","type":"quantitative","scale":{"domain":[-0.05,1.05],"nice":false,"zero":false},"axis":{"orient":"left","offset":-17,"maxExtent":200,"values":[0,0.2,0.4,0.6,0.8,1],"format":"~g","tickSize":17,"labelAngle":-90,"labelAlign":"center","labelBaseline":"bottom","labelPadding":18,"title":"fraction (<R)","titlePadding":2,"titleY":194}}}},
   {"transform":[{"filter":"datum.series === 'NS-NS'"}],"mark":{"type":"line","stroke":"black","strokeWidth":1,"strokeDash":[12,5,2,5]},
    "encoding":{"x":{"field":"r","type":"quantitative","scale":{"type":"log","domain":[0.1,3000],"nice":false},"axis":{"orient":"bottom","offset":-9,"maxExtent":200,"values":[0.2,0.3,0.4,0.5,0.6,0.7,0.8,0.9,2,3,4,5,6,7,8,9,20,30,40,50,60,70,80,90,200,300,400,500,600,700,800,900,2000],"tickSize":9,"labels":false,"title":"projected","titleFontSize":20,"titleX":136,"titleY":90,"titleAlign":"left","titleBaseline":"alphabetic"}},
     "y":{"field":"f","type":"quantitative","scale":{"domain":[-0.05,1.05],"nice":false,"zero":false},"axis":{"orient":"left","offset":-9,"values":[0.1,0.3,0.5,0.7,0.9],"tickSize":9,"labels":false,"title":null}}}},
   {"transform":[{"filter":"datum.series === 'BH-NS'"}],"mark":{"type":"line","stroke":"black","strokeWidth":1},
    "encoding":{"x":{"field":"r","type":"quantitative","scale":{"type":"log","domain":[0.1,3000],"nice":false},"axis":{"orient":"top","offset":-17,"values":[1,10,100,1000],"tickSize":17,"labels":false,"title":null}},
     "y":{"field":"f","type":"quantitative","scale":{"domain":[-0.05,1.05],"nice":false,"zero":false},"axis":{"orient":"right","offset":-17,"values":[0,0.2,0.4,0.6,0.8,1],"tickSize":17,"labels":false,"title":null}}}},
   {"data":{"values":[{"label":"small elliptical"}]},"mark":{"type":"text","font":"DejaVu Serif","fontSize":31,"align":"left","baseline":"alphabetic","color":"black"},
    "encoding":{"text":{"field":"label"},"x":{"datum":6.5,"type":"quantitative","scale":{"type":"log","domain":[0.1,3000],"nice":false},"axis":{"orient":"top","offset":-9,"values":[0.2,0.3,0.4,0.5,0.6,0.7,0.8,0.9,2,3,4,5,6,7,8,9,20,30,40,50,60,70,80,90,200,300,400,500,600,700,800,900,2000],"tickSize":9,"labels":false,"title":null}},
     "y":{"datum":0.067,"type":"quantitative","scale":{"domain":[-0.05,1.05],"nice":false,"zero":false},"axis":{"orient":"right","offset":-9,"values":[0.1,0.3,0.5,0.7,0.9],"tickSize":9,"labels":false,"title":null}}}},
   {"transform":[{"filter":"datum.series === 'all'"}],"mark":{"type":"line","strokeOpacity":0},
    "encoding":{"x":{"field":"r","type":"quantitative","scale":{"type":"log","domain":[0.1,3000],"nice":false},"axis":{"orient":"bottom","maxExtent":200,"ticks":false,"labels":false,"title":"[kpc]","titleFontSize":32,"titleX":250,"titleY":74,"titleAlign":"left","titleBaseline":"alphabetic"}},
     "y":{"field":"f","type":"quantitative","scale":{"domain":[-0.05,1.05],"nice":false,"zero":false},"axis":null}}}
  ]},
 {"width":455,"height":342,"data":{"name":"curves"},"transform":[{"filter":"datum.panel === 'le'"}],
  "resolve":{"axis":{"x":"independent","y":"independent"}},
  "layer":[
   {"transform":[{"filter":"datum.series === 'all'"}],"mark":{"type":"line","stroke":"black","strokeWidth":2.8},
    "encoding":{"x":{"field":"r","type":"quantitative","scale":{"type":"log","domain":[0.1,3000],"nice":false},"axis":{"orient":"bottom","offset":-17,"maxExtent":200,"values":[1,10,100,1000],"tickSize":17,"labels":true,"labelExpr":"datum.value == 1 ? '10⁰' : datum.value == 10 ? '10¹' : datum.value == 100 ? '10²' : '10³'","labelPadding":11,"labelFontSize":22,"title":"R","titleFontSize":32,"titleX":115,"titleY":91,"titleAlign":"left","titleBaseline":"alphabetic"}},
     "y":{"field":"f","type":"quantitative","scale":{"domain":[-0.05,1.05],"nice":false,"zero":false},"axis":{"orient":"left","offset":-17,"values":[0,0.2,0.4,0.6,0.8,1],"tickSize":17,"labels":false,"title":null}}}},
   {"transform":[{"filter":"datum.series === 'NS-NS'"}],"mark":{"type":"line","stroke":"black","strokeWidth":1,"strokeDash":[12,5,2,5]},
    "encoding":{"x":{"field":"r","type":"quantitative","scale":{"type":"log","domain":[0.1,3000],"nice":false},"axis":{"orient":"bottom","offset":-9,"maxExtent":200,"values":[0.2,0.3,0.4,0.5,0.6,0.7,0.8,0.9,2,3,4,5,6,7,8,9,20,30,40,50,60,70,80,90,200,300,400,500,600,700,800,900,2000],"tickSize":9,"labels":false,"title":"projected","titleFontSize":20,"titleX":136,"titleY":90,"titleAlign":"left","titleBaseline":"alphabetic"}},
     "y":{"field":"f","type":"quantitative","scale":{"domain":[-0.05,1.05],"nice":false,"zero":false},"axis":{"orient":"left","offset":-9,"values":[0.1,0.3,0.5,0.7,0.9],"tickSize":9,"labels":false,"title":null}}}},
   {"transform":[{"filter":"datum.series === 'BH-NS'"}],"mark":{"type":"line","stroke":"black","strokeWidth":1},
    "encoding":{"x":{"field":"r","type":"quantitative","scale":{"type":"log","domain":[0.1,3000],"nice":false},"axis":{"orient":"top","offset":-17,"values":[1,10,100,1000],"tickSize":17,"labels":false,"title":null}},
     "y":{"field":"f","type":"quantitative","scale":{"domain":[-0.05,1.05],"nice":false,"zero":false},"axis":{"orient":"right","offset":-17,"values":[0,0.2,0.4,0.6,0.8,1],"tickSize":17,"labels":false,"title":null}}}},
   {"data":{"values":[{"label":"large elliptical"}]},"mark":{"type":"text","font":"DejaVu Serif","fontSize":31,"align":"left","baseline":"alphabetic","color":"black"},
    "encoding":{"text":{"field":"label"},"x":{"datum":5.2,"type":"quantitative","scale":{"type":"log","domain":[0.1,3000],"nice":false},"axis":{"orient":"top","offset":-9,"values":[0.2,0.3,0.4,0.5,0.6,0.7,0.8,0.9,2,3,4,5,6,7,8,9,20,30,40,50,60,70,80,90,200,300,400,500,600,700,800,900,2000],"tickSize":9,"labels":false,"title":null}},
     "y":{"datum":0.067,"type":"quantitative","scale":{"domain":[-0.05,1.05],"nice":false,"zero":false},"axis":{"orient":"right","offset":-9,"values":[0.1,0.3,0.5,0.7,0.9],"tickSize":9,"labels":false,"title":null}}}},
   {"transform":[{"filter":"datum.series === 'all'"}],"mark":{"type":"line","strokeOpacity":0},
    "encoding":{"x":{"field":"r","type":"quantitative","scale":{"type":"log","domain":[0.1,3000],"nice":false},"axis":{"orient":"bottom","maxExtent":200,"ticks":false,"labels":false,"title":"[kpc]","titleFontSize":32,"titleX":250,"titleY":74,"titleAlign":"left","titleBaseline":"alphabetic"}},
     "y":{"field":"f","type":"quantitative","scale":{"domain":[-0.05,1.05],"nice":false,"zero":false},"axis":null}}},
   {"data":{"values":[{"label":"NS-NS"}]},"mark":{"type":"rule","stroke":"black","strokeWidth":1,"strokeDash":[12,5,2,5]},
    "encoding":{"x":{"datum":9.9,"type":"quantitative","axis":null},"x2":{"datum":63},"y":{"datum":0.392,"type":"quantitative","axis":null}}},
   {"data":{"values":[{"label":"BH-NS"}]},"mark":{"type":"rule","stroke":"black","strokeWidth":1},
    "encoding":{"x":{"datum":9.9,"type":"quantitative","axis":null},"x2":{"datum":63},"y":{"datum":0.29,"type":"quantitative","axis":null}}},
   {"data":{"values":[{"label":"NS-NS"}]},"mark":{"type":"text","font":"Liberation Sans","fontSize":27,"align":"left","baseline":"middle","color":"black"},
    "encoding":{"text":{"field":"label"},"x":{"datum":103,"type":"quantitative","axis":null},"y":{"datum":0.392,"type":"quantitative","axis":null}}},
   {"data":{"values":[{"label":"BH-NS"}]},"mark":{"type":"text","font":"Liberation Sans","fontSize":27,"align":"left","baseline":"middle","color":"black"},
    "encoding":{"text":{"field":"label"},"x":{"datum":103,"type":"quantitative","axis":null},"y":{"datum":0.29,"type":"quantitative","axis":null}}}
  ]}
]}
]
}
